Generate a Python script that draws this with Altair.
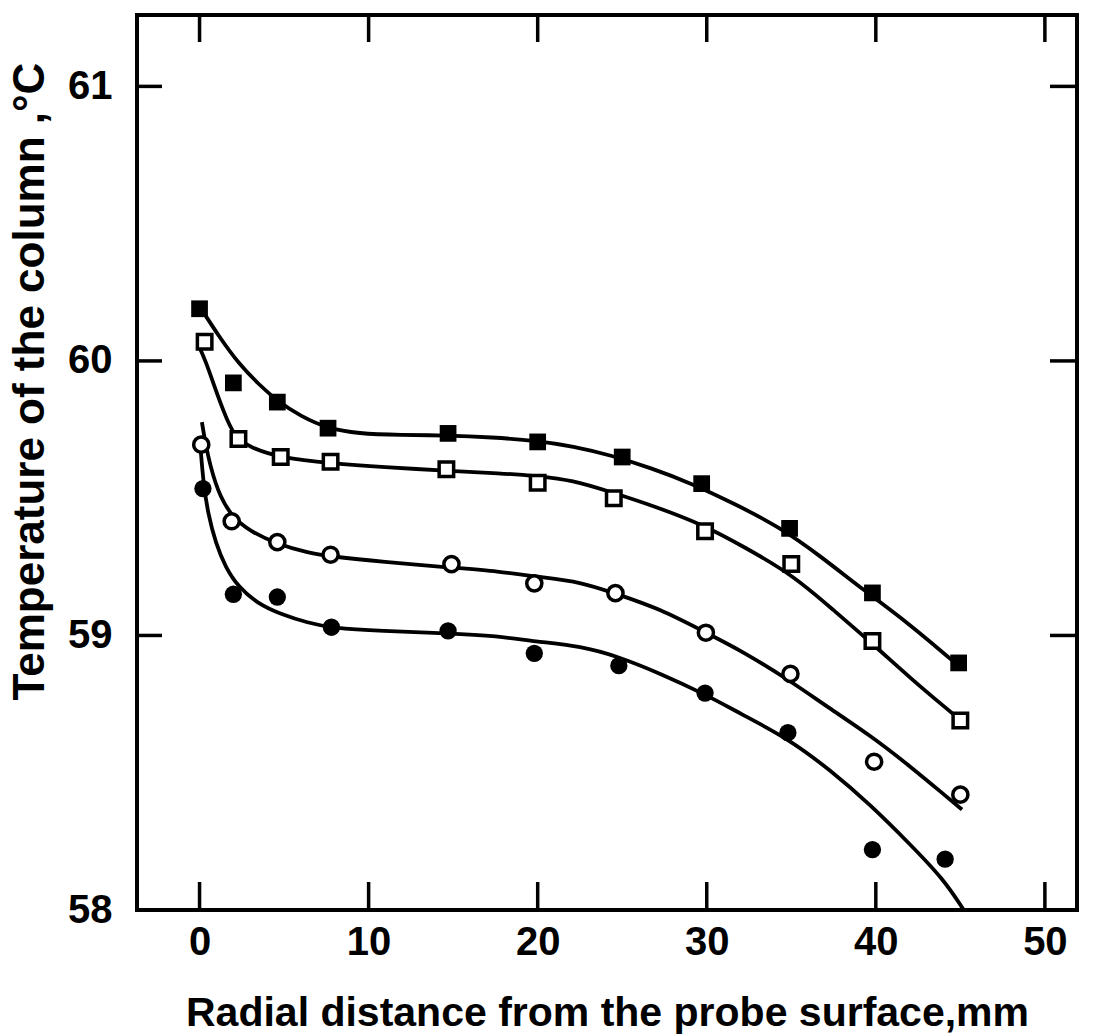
import altair as alt
import pandas as pd

# ---- data ----
x_ticks = [0, 10, 20, 30, 40, 50]
y_ticks = [58, 59, 60, 61]
y_inner_ticks = [59, 60, 61]

# filled squares
fsq_x = [0.0, 2.0, 4.6, 7.6, 14.7, 20.0, 25.0, 29.7, 34.9, 39.8, 44.9]
fsq_y = [60.19, 59.92, 59.85, 59.755, 59.736, 59.705, 59.65, 59.553, 59.39, 59.155, 58.90]
# open squares
osq_x = [0.3, 2.3, 4.8, 7.75, 14.6, 20.0, 24.5, 29.9, 35.0, 39.8, 45.0]
osq_y = [60.07, 59.716, 59.65, 59.633, 59.605, 59.556, 59.50, 59.38, 59.26, 58.98, 58.69]
# open circles
ocir_x = [0.1, 1.9, 4.6, 7.75, 14.9, 19.8, 24.6, 29.95, 34.95, 39.9, 45.0]
ocir_y = [59.695, 59.416, 59.34, 59.294, 59.26, 59.19, 59.154, 59.01, 58.86, 58.54, 58.42]
# filled circles
fcir_x = [0.2, 2.0, 4.6, 7.8, 14.7, 19.8, 24.8, 29.9, 34.8, 39.8, 44.1]
fcir_y = [59.535, 59.15, 59.14, 59.03, 59.017, 58.935, 58.89, 58.79, 58.646, 58.22, 58.185]

# fitted curves (traced)
fsq_cx = [0.03, 1.18, 2.34, 3.5, 4.62, 6.0, 7.55, 9.37, 11.9, 14.65, 17.25, 20.0,
          22.1, 24.3, 26.7, 29.1, 31.6, 34.3, 36.6, 39.3, 41.8, 44.5]
fsq_cy = [60.196, 60.086, 59.988, 59.915, 59.853, 59.798, 59.755, 59.735, 59.73, 59.729,
          59.722, 59.709, 59.689, 59.657, 59.61, 59.554, 59.481, 59.395, 59.295, 59.164,
          59.051, 58.910]
osq_cx = [-0.11, 0.36, 0.83, 1.4, 2.06, 3.03, 4.8, 7.75, 10.9, 14.6, 17.8, 20.0, 22.05,
          24.3, 26.9, 29.9, 32.2, 35.1, 37.5, 39.8, 42.2, 44.2, 45.2]
osq_cy = [60.063, 60.0, 59.916, 59.819, 59.721, 59.684, 59.647, 59.627, 59.613, 59.6,
          59.591, 59.58, 59.566, 59.523, 59.471, 59.4, 59.323, 59.22, 59.092, 58.97,
          58.836, 58.733, 58.682]
ocir_cx = [0.14, 0.28, 0.64, 1.21, 1.97, 2.95, 4.61, 6.47, 7.75, 10.8, 14.9, 17.7, 19.9,
           22.6, 24.6, 27.2, 29.95, 32.1, 34.96, 37.2, 39.7, 42.1, 44.1, 45.1]
ocir_cy = [59.777, 59.723, 59.613, 59.504, 59.43, 59.381, 59.332, 59.30, 59.288, 59.268,
           59.247, 59.234, 59.214, 59.195, 59.152, 59.098, 59.01, 58.943, 58.834, 58.737,
           58.635, 58.52, 58.417, 58.366]
fcir_cx = [0.07, 0.23, 0.5, 0.96, 1.53, 2.3, 3.46, 4.83, 6.4, 7.83, 10.73, 14.73, 17.63,
           19.8, 22.6, 24.8, 27.15, 29.9, 32.0, 34.8, 37.3, 39.7, 42.0, 44.0, 45.2]
fcir_cy = [59.674, 59.553, 59.444, 59.335, 59.249, 59.176, 59.115, 59.077, 59.046, 59.027,
           59.016, 59.008, 58.998, 58.978, 58.961, 58.922, 58.864, 58.786, 58.715, 58.625,
           58.51, 58.382, 58.241, 58.113, 58.0]

W, H = 940, 895
FONT = "Liberation Sans"

xaxis = alt.Axis(values=x_ticks, ticks=False, domain=False, grid=False,
                 labelFont=FONT, labelFontSize=40, labelFontWeight="bold",
                 labelColor="black", labelPadding=12, labelFlush=False,
                 title="Radial distance from the probe surface,mm",
                 titleFont=FONT, titleFontSize=41, titleFontWeight="bold",
                 titleColor="black", titleY=115, titleBaseline="alphabetic")
yaxis = alt.Axis(values=y_ticks, ticks=False, domain=False, grid=False, format="d",
                 labelFont=FONT, labelFontSize=40, labelFontWeight="bold",
                 labelColor="black", labelPadding=25, labelFlush=False,
                 title="Temperature of the column ,°C",
                 titleFont=FONT, titleFontSize=44, titleFontWeight="bold",
                 titleColor="black", titleX=-94, titleY=366, titleAngle=270,
                 titleAlign="center", titleBaseline="alphabetic")

X = alt.X("x:Q", scale=alt.Scale(domain=[-3.7, 51.9], nice=False, zero=False), axis=xaxis)
Y = alt.Y("y:Q", scale=alt.Scale(domain=[58, 61.26], nice=False, zero=False), axis=yaxis)


def df(xs, ys):
    return pd.DataFrame({"x": xs, "y": ys})


def curve(xs, ys):
    return alt.Chart(df(xs, ys)).mark_line(
        color="black", strokeWidth=3.8, interpolate="basis", clip=True
    ).encode(x=X, y=Y)


def pts(xs, ys, shape, filled, size):
    if filled:
        m = alt.Chart(df(xs, ys)).mark_point(shape=shape, filled=True, fill="black",
                                             color="black", opacity=1, size=size)
    else:
        m = alt.Chart(df(xs, ys)).mark_point(shape=shape, filled=False, stroke="black",
                                             strokeWidth=3.5, fill="white", fillOpacity=1,
                                             opacity=1, size=size)
    return m.encode(x=X, y=Y)


xt = pd.DataFrame({"x": x_ticks})
yt = pd.DataFrame({"y": y_inner_ticks})
tick_bottom = alt.Chart(xt).mark_rule(color="black", strokeWidth=3.5).encode(
    x=X, y=alt.value(H), y2=alt.value(H - 28))
tick_top = alt.Chart(xt).mark_rule(color="black", strokeWidth=3.5).encode(
    x=X, y=alt.value(0), y2=alt.value(27))
tick_left = alt.Chart(yt).mark_rule(color="black", strokeWidth=3.5).encode(
    y=Y, x=alt.value(0), x2=alt.value(25))
tick_right = alt.Chart(yt).mark_rule(color="black", strokeWidth=3.5).encode(
    y=Y, x=alt.value(W), x2=alt.value(W - 27))

chart = alt.layer(
    tick_bottom, tick_top, tick_left, tick_right,
    curve(fsq_cx, fsq_cy), curve(osq_cx, osq_cy),
    curve(ocir_cx, ocir_cy), curve(fcir_cx, fcir_cy),
    pts(fsq_x, fsq_y, "square", True, 280),
    pts(osq_x, osq_y, "square", False, 210),
    pts(ocir_x, ocir_y, "circle", False, 230),
    pts(fcir_x, fcir_y, "circle", True, 300),
).properties(
    width=W, height=H,
    padding={"left": 137, "top": 15, "right": 18, "bottom": 126},
    autosize=alt.AutoSizeParams(type="none"),
    background="white",
).configure_view(stroke="black", strokeWidth=4)

chart.save("out.html", embed_options={"renderer": "svg", "actions": False})
